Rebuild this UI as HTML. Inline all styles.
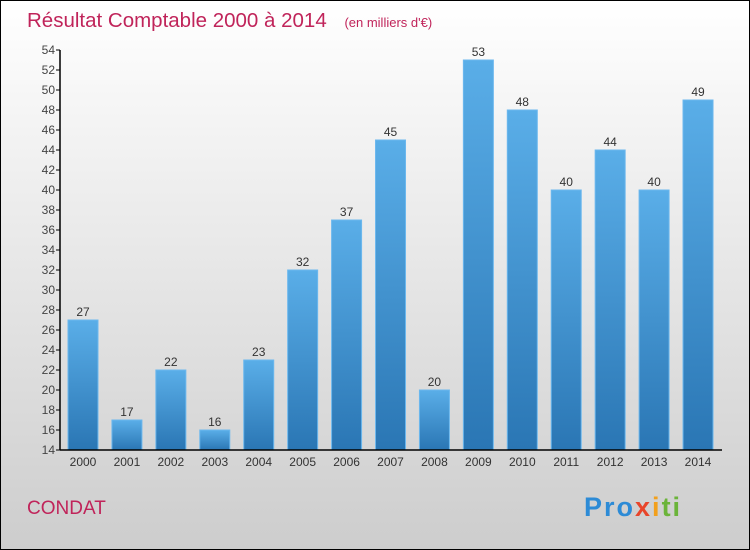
<!DOCTYPE html>
<html><head><meta charset="utf-8"><style>
body{margin:0;width:750px;height:550px;overflow:hidden}
svg{display:block}
text{font-family:"Liberation Sans",sans-serif}
</style></head><body>
<svg width="750" height="550">
<defs>
<linearGradient id="bg" x1="0" y1="0" x2="0" y2="1"><stop offset="0" stop-color="#ffffff"/><stop offset="1" stop-color="#cdcdcd"/></linearGradient>
<linearGradient id="bar" x1="0" y1="0" x2="0" y2="1"><stop offset="0" stop-color="#5aaee8"/><stop offset="1" stop-color="#2a76b4"/></linearGradient>
</defs>
<rect x="0.5" y="0.5" width="749" height="549" fill="url(#bg)" stroke="#000"/>
<text x="27" y="27" font-size="20.5" fill="#c0245a">Résultat Comptable 2000 à 2014 <tspan font-size="13" dx="12">(en milliers d'€)</tspan></text>
<g id="plot"></g>
<text x="27" y="514" font-size="19" fill="#c0245a">CONDAT</text>
<text x="584" y="516" font-size="27" font-weight="bold" letter-spacing="2"><tspan fill="#2d8bd6">Pro</tspan><tspan fill="#e8452a">x</tspan><tspan fill="#f2a01c">i</tspan><tspan fill="#6bb43a">ti</tspan></text>
</svg>
<script>
const categories=["2000","2001","2002","2003","2004","2005","2006","2007","2008","2009","2010","2011","2012","2013","2014"];
const values=[27,17,22,16,23,32,37,45,20,53,48,40,44,40,49];
const yTicks=[14,16,18,20,22,24,26,28,30,32,34,36,38,40,42,44,46,48,50,52,54];
const NS="http://www.w3.org/2000/svg";
const g=document.getElementById('plot');
const yMin=14,yMax=54,plotTop=50,plotBot=450,axisX=60;
const y=v=>plotBot-(v-yMin)/(yMax-yMin)*(plotBot-plotTop);
const x=i=>83+i*43.93;
function el(t,a){const e=document.createElementNS(NS,t);for(const k in a)e.setAttribute(k,a[k]);g.appendChild(e);return e;}
categories.forEach((c,i)=>{
  const r=el('rect',{x:x(i)-15,y:y(values[i]),width:30,height:plotBot-y(values[i]),fill:'url(#bar)',stroke:'#6cb8ee','stroke-width':1});
  
  
  const t=el('text',{x:x(i),y:y(values[i])-4,'text-anchor':'middle','font-size':12,fill:'#333'});
  t.textContent=values[i];
  
  
  const xl=el('text',{x:x(i),y:466,'text-anchor':'middle','font-size':12,fill:'#333'});
  xl.textContent=c;
  
  
});
yTicks.forEach(v=>{
  const l=el('line',{x1:axisX-4,x2:axisX,y1:y(v),y2:y(v),stroke:'#000'});
  
  
  const t=el('text',{x:axisX-5,y:y(v)+4,'text-anchor':'end','font-size':12,fill:'#444'});
  t.textContent=v;
  
  
});
const ya=el('line',{x1:axisX,x2:axisX,y1:plotTop,y2:plotBot,stroke:'#000','stroke-width':1.5});


const xa=el('line',{x1:axisX,x2:722,y1:plotBot,y2:plotBot,stroke:'#000','stroke-width':1.5});


</script>
</body></html>
